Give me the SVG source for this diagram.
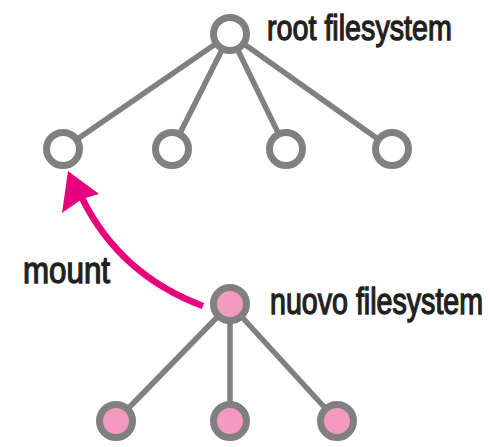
<svg xmlns="http://www.w3.org/2000/svg" width="490" height="447" viewBox="0 0 490 447">
  <style>
    .edge { stroke: #808080; stroke-width: 5.5; fill: none; }
    .node { stroke: #808080; stroke-width: 7; }
    .empty { fill: #ffffff; }
    .full { fill: #f49ac1; }
    .label { font-family: "Liberation Sans", Arial, sans-serif; font-size: 36px; fill: #231f20; stroke: #231f20; stroke-width: 1.3; }
    .mount { stroke: #e6007e; stroke-width: 6.5; fill: none; }
  </style>
  <rect width="490" height="447" fill="#ffffff"/>
  <g id="connectors">
    <line class="edge" x1="230" y1="34" x2="63" y2="149"/>
    <line class="edge" x1="230" y1="34" x2="172" y2="149"/>
    <line class="edge" x1="230" y1="34" x2="286" y2="149"/>
    <line class="edge" x1="230" y1="34" x2="392" y2="149"/>
    <line class="edge" x1="230" y1="304" x2="116" y2="421"/>
    <line class="edge" x1="230" y1="304" x2="230" y2="421"/>
    <line class="edge" x1="230" y1="304" x2="337" y2="421"/>
    <g id="mount-arrow">
      <path class="mount" d="M 203 306 Q 120 275 82 198"/>
      <polygon points="68,171 99,194 82,199 62,213" fill="#e6007e"/>
    </g>
  </g>
  <g id="root">
    <circle class="node empty" cx="230" cy="34" r="16.5"/>
    <text class="label" transform="translate(267,40) scale(0.797,1)">root filesystem</text>
  </g>
  <g id="child1"><circle class="node empty" cx="63" cy="149" r="16.5"/></g>
  <g id="child2"><circle class="node empty" cx="172" cy="149" r="16.5"/></g>
  <g id="child3"><circle class="node empty" cx="286" cy="149" r="16.5"/></g>
  <g id="child4"><circle class="node empty" cx="392" cy="149" r="16.5"/></g>
  <g id="newfs">
    <circle class="node full" cx="230" cy="304" r="16.5"/>
    <text class="label" transform="translate(270,314) scale(0.795,1)">nuovo filesystem</text>
  </g>
  <g id="new1"><circle class="node full" cx="116" cy="421" r="16.5"/></g>
  <g id="new2"><circle class="node full" cx="230" cy="421" r="16.5"/></g>
  <g id="new3"><circle class="node full" cx="337" cy="421" r="16.5"/></g>
  <g id="mount-label">
    <text class="label" font-size="38" transform="translate(23,283) scale(0.87,1)">mount</text>
  </g>
</svg>
